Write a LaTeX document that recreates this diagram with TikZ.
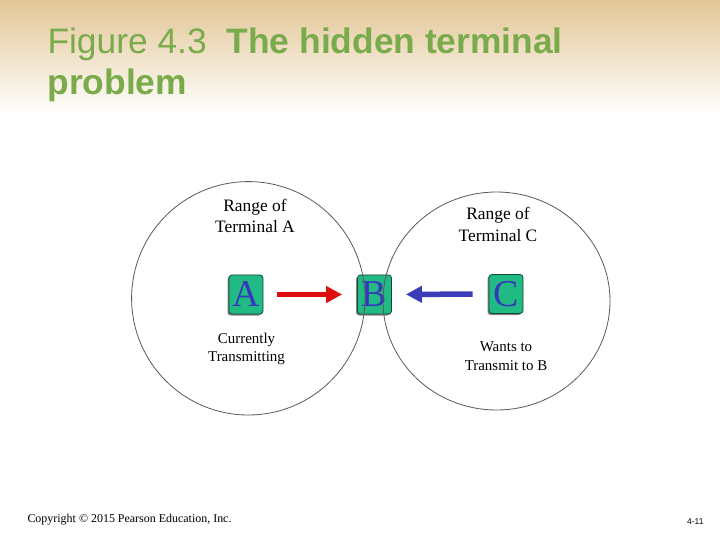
\documentclass[tikz,border=0pt]{standalone}
\usepackage{fontspec}
\setmainfont{Liberation Serif}
\newfontfamily\headfont{Liberation Sans}
\usetikzlibrary{arrows.meta,positioning,shadows}
\definecolor{headgreen}{RGB}{122,171,74}
\definecolor{slidetan}{RGB}{226,198,150}
\definecolor{termfill}{RGB}{32,186,130}
\definecolor{termline}{RGB}{20,70,50}
\definecolor{letterblue}{RGB}{55,55,190}
\definecolor{sendred}{RGB}{222,12,12}
\definecolor{waitblue}{RGB}{60,60,185}

\begin{document}
\begin{tikzpicture}[
  x=1bp, y=-1bp,
  term/.style={draw=termline, fill=termfill, rounded corners=3bp, line width=0.8bp,
               minimum width=34bp, minimum height=39bp, inner sep=0pt,
               text=letterblue, font=\fontsize{38}{38}\selectfont,
               drop shadow={shadow xshift=-1.5bp, shadow yshift=-1.5bp, fill=black!70, opacity=.7}},
  rangelabel/.style={align=center, anchor=base, font=\fontsize{17.5}{22}\selectfont},
  note/.style={align=center, anchor=base, font=\fontsize{15}{18.5}\selectfont},
  arr/.style={line width=5.5bp, -{Triangle[length=16bp, width=16bp]}},
  reach/.style={draw=black!65, line width=0.8bp}
]
\useasboundingbox (0,0) rectangle (720,540);
\fill[white] (0,0) rectangle (720,540);
\shade[top color=slidetan, bottom color=white] (0,0) rectangle (720,115);

% slide title (placed by its last baseline)
\node[anchor=base west, align=left, text=headgreen,
      font=\headfont\fontsize{35.5}{42}\selectfont] (title) at (44,95)
      {Figure 4.3\hspace{20bp}\textbf{The hidden terminal}\\\textbf{problem}};

% terminals
\node[term] (A) at (246,294.5) {A};
\node[term] (B) at (374.5,294.5) {B};
\node[term] (C) at (506,294) {C};

% ranges
\draw[reach] (248.3,298.3) ellipse [x radius=116.7, y radius=116.7];
\draw[reach] (496.5,301) ellipse [x radius=113.5, y radius=109];

\node[rangelabel] (rangeA) at (255,233) {Range of\\Terminal A};
\node[rangelabel] (rangeC) at (498,241.7) {Range of\\Terminal C};
\node[note] (noteA) at (246.5,361.7) {Currently\\Transmitting};
\node[note] (noteC) at (506,370) {Wants to\\Transmit to B};

\draw[arr, sendred, shorten <=14bp, shorten >=15bp] (A) -- (B);
\draw[arr, waitblue, shorten <=16bp, shorten >=14bp] (C) -- (B);

% footer
\node[anchor=base west, font=\fontsize{12}{14}\selectfont] (copy) at (24,522)
      {Copyright © 2015 Pearson Education, Inc.};
\node[anchor=base east, font=\headfont\fontsize{8.5}{10}\selectfont] (page) at (707,524) {4-11};

\end{tikzpicture}
\end{document}
